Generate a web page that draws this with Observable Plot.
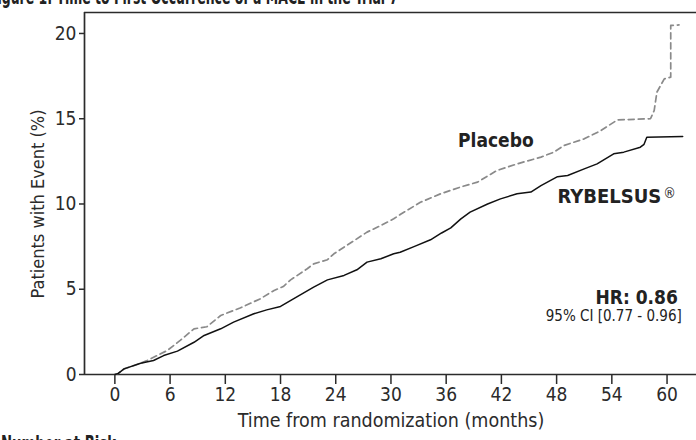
<!DOCTYPE html>
<html><head><meta charset="utf-8">
<script src="https://cdn.jsdelivr.net/npm/d3@7"></script>
<script src="https://cdn.jsdelivr.net/npm/@observablehq/plot@0.6"></script>
<style>
html,body{margin:0;padding:0;background:#fff;overflow:hidden}
#wrap{position:relative;width:696px;height:440px;overflow:hidden;font-family:"DejaVu Sans Condensed","Liberation Sans",sans-serif;color:#222}
#chart{position:absolute;left:0;top:0}
#title{position:absolute;left:-11px;top:-13px;font-weight:bold;font-size:21px;line-height:21px;white-space:nowrap;transform:scaleX(0.66);transform-origin:0 0}
#foot{position:absolute;left:1px;top:434px;font-weight:bold;font-size:21px;line-height:21px;white-space:nowrap;transform:scaleX(0.7);transform-origin:0 0}
</style></head><body>
<div id="wrap"><div id="chart"></div>
<div id="title">Figure 1: Time to First Occurrence of a MACE in the Trial 7</div>
<div id="foot">Number at Risk</div></div>
<script>
// ---- data ----
const xTicks = [0, 6, 12, 18, 24, 30, 36, 42, 48, 54, 60];
const yTicks = [0, 5, 10, 15, 20];
const xDomain = [-3.3, 63.2];
const yDomain = [0, 21.23];
const xLabel = "Time from randomization (months)";
const yLabel = "Patients with Event (%)";

const rybelsusMonths = [0, 0.3, 1.0, 2.8, 4.2, 5.3, 6.8, 8.6, 9.7, 11.5, 12.9, 15.1, 16.5, 18.0, 19.4, 21.6, 23.1, 24.9, 26.3, 27.4, 28.9, 30.3, 31.0, 32.5, 34.3, 35.5, 36.5, 37.6, 38.6, 40.5, 41.9, 43.7, 45.2, 46.3, 48.1, 49.2, 51.0, 52.4, 54.2, 55.3, 57.1, 57.5, 57.8, 61.7];
const rybelsusPct    = [0, 0.04, 0.33, 0.66, 0.82, 1.11, 1.37, 1.89, 2.29, 2.68, 3.07, 3.56, 3.79, 3.99, 4.44, 5.12, 5.55, 5.81, 6.14, 6.59, 6.79, 7.08, 7.17, 7.5, 7.9, 8.3, 8.6, 9.13, 9.52, 10.0, 10.3, 10.6, 10.7, 11.08, 11.6, 11.67, 12.06, 12.35, 12.94, 13.04, 13.33, 13.5, 13.92, 13.96];

const placeboMonths = [0, 0.3, 1.0, 2.8, 3.5, 5.7, 7.1, 8.6, 10.0, 11.5, 13.6, 15.8, 17.3, 18.3, 19.1, 20.9, 21.6, 23.1, 23.8, 25.2, 27.4, 28.9, 30.3, 31.0, 33.2, 35.4, 37.6, 39.4, 41.5, 43.7, 46.3, 47.7, 48.8, 51.0, 52.8, 54.6, 58.2, 58.6, 58.9, 59.7, 60.4, 60.4, 61.3];
const placeboPct    = [0, 0.04, 0.33, 0.66, 0.82, 1.41, 2.0, 2.68, 2.8, 3.46, 3.9, 4.44, 4.93, 5.16, 5.55, 6.2, 6.49, 6.73, 7.08, 7.57, 8.35, 8.74, 9.13, 9.38, 10.1, 10.6, 11.0, 11.28, 11.96, 12.35, 12.75, 13.04, 13.43, 13.82, 14.3, 14.93, 15.0, 15.48, 16.56, 17.34, 17.44, 20.47, 20.5];

const placeboLabel = [{text: "Placebo", t: 41.4, v: 13.72}];
const rybelsusLabel = [{text: "RYBELSUS", t: 48.1, v: 10.44}];
const regMark = [{text: "®", t: 59.6, v: 10.44}];
const hrLabel = [{text: "HR: 0.86", t: 56.7, v: 4.52}];
const ciLabel = [{text: "95% CI [0.77 - 0.96]", t: 61.6, v: 3.4}];

const ryb = rybelsusMonths.map((t, i) => ({t, v: rybelsusPct[i]}));
const pla = placeboMonths.map((t, i) => ({t, v: placeboPct[i]}));

const font = `"DejaVu Sans Condensed","Liberation Sans",sans-serif`;
const ink = "#2b2b2b";

const chart = Plot.plot({
  width: 696, height: 440,
  marginLeft: 84, marginRight: 0, marginTop: 12, marginBottom: 66,
  style: {fontFamily: font, fontSize: "19px", color: ink, background: "white"},
  x: {domain: xDomain, label: null},
  y: {domain: yDomain, label: null},
  marks: [
    Plot.axisX({ticks: xTicks, tickSize: 10, tickPadding: 3, stroke: ink, strokeWidth: 1.5, fill: ink, fontSize: 19, label: null}),
    Plot.axisY({ticks: yTicks, tickSize: 5, tickPadding: 3, stroke: ink, strokeWidth: 1.5, fill: ink, fontSize: 19, label: null}),
    Plot.ruleY([yDomain[0]], {stroke: ink, strokeWidth: 1.7}),
    Plot.ruleY([yDomain[1]], {stroke: ink, strokeWidth: 1.7}),
    Plot.ruleX([xDomain[0]], {stroke: ink, strokeWidth: 1.7}),
    Plot.line(pla, {x: "t", y: "v", stroke: "#8a8a8a", strokeWidth: 1.7, strokeDasharray: "6,4"}),
    Plot.line(ryb, {x: "t", y: "v", stroke: "#111", strokeWidth: 1.5}),
    Plot.text([yLabel], {x: xDomain[0], y: d3.mean(yTicks), text: d => d, rotate: -90, dx: -46, fontSize: 18, fill: ink}),
    Plot.text([xLabel], {x: d3.mean(xTicks), frameAnchor: "bottom", text: d => d, dy: 52, fontSize: 19.5, fill: ink}),
    Plot.text(placeboLabel, {x: "t", y: "v", text: "text", textAnchor: "middle", fontWeight: "bold", fontSize: 19, fill: "#222"}),
    Plot.text(rybelsusLabel, {x: "t", y: "v", text: "text", textAnchor: "start", fontWeight: "bold", fontSize: 20, fill: "#222"}),
    Plot.text(regMark, {x: "t", y: "v", text: "text", textAnchor: "start", dy: -3, fontSize: 14, fill: "#222"}),
    Plot.text(hrLabel, {x: "t", y: "v", text: "text", textAnchor: "middle", fontWeight: "bold", fontSize: 19, fill: "#222"}),
    Plot.text(ciLabel, {x: "t", y: "v", text: "text", textAnchor: "end", fontSize: 15, fill: "#222"})
  ]
});
document.getElementById("chart").appendChild(chart);
</script>
</body></html>
